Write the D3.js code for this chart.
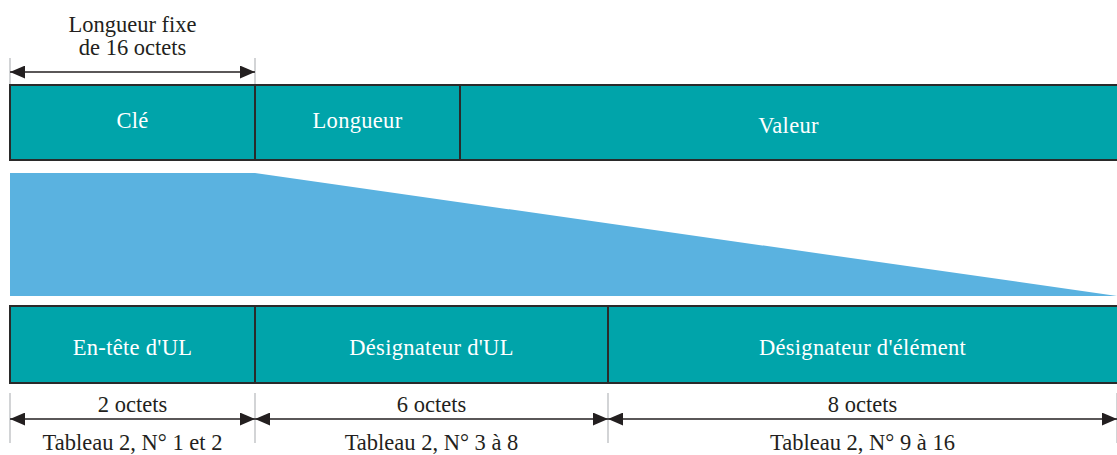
<!DOCTYPE html>
<html>
<head>
<meta charset="utf-8">
<script src="https://cdn.jsdelivr.net/npm/d3@7"></script>
<style>
  body { margin: 0; background: #fff; }
</style>
</head>
<body>
<div id="plot"></div>
<script>
// KLV layout: top row fields and the key broken into its parts
var topFields = ["Clé", "Longueur", "Valeur"];
var topSlots = [0, 1, 2, 3];               // schematic slot edges
var keyLabel = ["Longueur fixe", "de 16 octets"];

var keyParts = ["En-tête d'UL", "Désignateur d'UL", "Désignateur d'élément"];
var keyBytes = [2, 6, 8];
var keyRefs = ["Tableau 2, N° 1 et 2", "Tableau 2, N° 3 à 8", "Tableau 2, N° 9 à 16"];

var width = 1117, height = 455;
var teal = "#00a4aa", blue = "#5ab2e0", ink = "#231f20";
var serif = "'Liberation Serif', Tinos, 'Times New Roman', serif";
var fs = 22.5;

var svg = d3.select("div#plot")
  .append("svg")
    .attr("width", width)
    .attr("height", height)
    .style("font-family", serif);

// schematic scales (the drawing is not to scale)
var xTop = d3.scaleLinear().domain(topSlots).range([10, 255, 460, 1117]);
var cum = [0];
keyBytes.forEach(function(b, i) { cum.push(cum[i] + b); });
var xKey = d3.scaleLinear().domain(cum).range([10, 255, 608, 1117]);

var y = { dimTop: 72, top0: 85, top1: 160, fan0: 173, fan1: 296, bot0: 306, bot1: 383, dimBot: 419 };

// arrow heads
var defs = svg.append("defs");
["start", "end"].forEach(function(k) {
  defs.append("marker")
    .attr("id", "arr-" + k)
    .attr("viewBox", "0 0 14 12")
    .attr("refX", k == "end" ? 14 : 0).attr("refY", 6)
    .attr("markerWidth", 15).attr("markerHeight", 13)
    .attr("markerUnits", "userSpaceOnUse")
    .attr("orient", "auto")
    .append("path")
    .attr("d", k == "end" ? "M0,0L14,6L0,12Z" : "M14,0L0,6L14,12Z")
    .attr("fill", ink);
});

function dimLine(x0, x1, yy) {
  svg.append("line")
    .attr("x1", x0).attr("x2", x1).attr("y1", yy).attr("y2", yy)
    .attr("stroke", ink).attr("stroke-width", 1.3)
    .attr("marker-start", "url(#arr-start)")
    .attr("marker-end", "url(#arr-end)");
}
function tick(xx, y0, y1) {
  svg.append("line")
    .attr("x1", xx).attr("x2", xx).attr("y1", y0).attr("y2", y1)
    .attr("stroke", "#b5b8bb").attr("stroke-width", 1.2);
}

// top dimension: fixed length key
tick(xTop(0), 58, y.top0);
tick(xTop(1), 58, y.top0);
dimLine(xTop(0), xTop(1), y.dimTop);
svg.selectAll(".keylab")
  .data(keyLabel)
  .enter().append("text")
  .attr("x", (xTop(0) + xTop(1)) / 2)
  .attr("y", function(d, i) { return 32 + i * 23; })
  .attr("text-anchor", "middle")
  .attr("font-size", fs)
  .attr("fill", ink)
  .text(function(d) { return d; });

// top row boxes
svg.selectAll(".topbox")
  .data(topFields)
  .enter().append("rect")
  .attr("x", function(d, i) { return xTop(i); })
  .attr("y", y.top0)
  .attr("width", function(d, i) { return (i == topFields.length - 1 ? 10 : 0) + xTop(i + 1) - xTop(i); })
  .attr("height", y.top1 - y.top0)
  .attr("fill", teal)
  .attr("stroke", "#2a2a2a")
  .attr("stroke-width", 2);

var topBase = [128, 128, 133];
svg.selectAll(".toplab")
  .data(topFields)
  .enter().append("text")
  .attr("x", function(d, i) { return (xTop(i) + xTop(i + 1)) / 2; })
  .attr("y", function(d, i) { return topBase[i]; })
  .attr("text-anchor", "middle")
  .attr("font-size", fs)
  .attr("letter-spacing", 0.3)
  .attr("fill", "#fff")
  .text(function(d) { return d; });

// expansion fan
svg.append("path")
  .attr("d", d3.line()([
    [xTop(0), y.fan0], [xTop(1), y.fan0], [xTop(3), y.fan1], [xTop(0), y.fan1]
  ]) + "Z")
  .attr("fill", blue);

// bottom row boxes
svg.selectAll(".botbox")
  .data(keyParts)
  .enter().append("rect")
  .attr("x", function(d, i) { return xKey(cum[i]); })
  .attr("y", y.bot0)
  .attr("width", function(d, i) { return (i == keyParts.length - 1 ? 10 : 0) + xKey(cum[i + 1]) - xKey(cum[i]); })
  .attr("height", y.bot1 - y.bot0)
  .attr("fill", teal)
  .attr("stroke", "#2a2a2a")
  .attr("stroke-width", 2);

svg.selectAll(".botlab")
  .data(keyParts)
  .enter().append("text")
  .attr("x", function(d, i) { return (xKey(cum[i]) + xKey(cum[i + 1])) / 2; })
  .attr("y", 355)
  .attr("text-anchor", "middle")
  .attr("font-size", fs)
  .attr("letter-spacing", 0.3)
  .attr("fill", "#fff")
  .text(function(d) { return d; });

// bottom dimensions
cum.forEach(function(c) { tick(xKey(c), 393, 443); });
keyBytes.forEach(function(b, i) {
  var x0 = xKey(cum[i]), x1 = xKey(cum[i + 1]);
  dimLine(x0, x1, y.dimBot);
  svg.append("text")
    .attr("x", (x0 + x1) / 2).attr("y", 412)
    .attr("text-anchor", "middle").attr("font-size", fs).attr("fill", ink)
    .text(b + " octets");
  svg.append("text")
    .attr("x", (x0 + x1) / 2).attr("y", 450)
    .attr("text-anchor", "middle").attr("font-size", fs).attr("fill", ink)
    .text(keyRefs[i]);
});
</script>
</body>
</html>
